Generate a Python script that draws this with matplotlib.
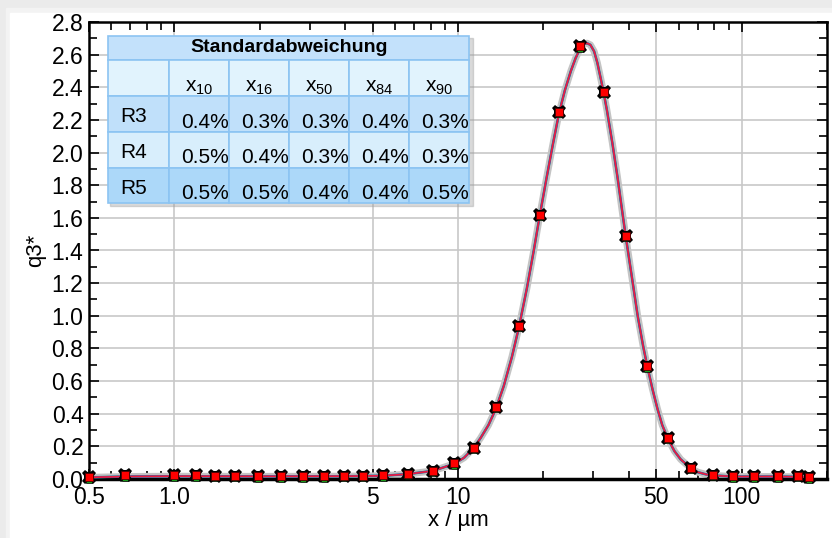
import matplotlib.pyplot as plt
from matplotlib.patches import Rectangle
from matplotlib.ticker import FixedLocator, NullFormatter, MultipleLocator

plt.rcParams['font.family'] = ['Liberation Sans', 'DejaVu Sans']
plt.rcParams['mathtext.fontset'] = 'custom'
plt.rcParams['mathtext.rm'] = 'Liberation Sans'

# measured points (x in um, q3*)
x_pts = [0.5, 0.67, 1.0, 1.19, 1.39, 1.63, 1.97, 2.38, 2.84, 3.36, 3.95, 4.61,
         5.42, 6.66, 8.17, 9.66, 11.35, 13.6, 16.4, 19.4, 22.7, 27.0, 32.6,
         39.0, 46.5, 55.0, 66.1, 79.2, 93.6, 111, 134, 158, 173]
q3_pts = [0.01, 0.022, 0.022, 0.022, 0.021, 0.018, 0.017, 0.017, 0.016, 0.016,
          0.018, 0.02, 0.022, 0.032, 0.05, 0.095, 0.19, 0.44, 0.94, 1.62,
          2.25, 2.65, 2.37, 1.49, 0.69, 0.25, 0.07, 0.025, 0.017, 0.017,
          0.017, 0.02, 0.01]

# fitted distribution curve
x_fit = [0.5, 0.67, 1.0, 2.0, 4.0, 5.42, 6.66, 8.17, 9.66, 10.5, 11.35, 12.0,
         12.8, 13.6, 14.5, 15.5, 16.4, 17.5, 18.5, 19.4, 20.5, 21.6, 22.7,
         23.8, 25.0, 26.0, 27.0, 27.8, 28.5, 29.3, 30.2, 31.0, 31.8, 32.6,
         33.5, 35.0, 36.5, 38.0, 39.0, 41.0, 43.0, 45.0, 46.5, 48.5, 50.5,
         52.5, 55.0, 58.0, 61.0, 66.0, 70.0, 75.0, 79.2, 93.6, 134, 173]
q3_fit = [0.01, 0.015, 0.017, 0.016, 0.017, 0.02, 0.03, 0.05, 0.092, 0.13,
          0.19, 0.25, 0.33, 0.43, 0.57, 0.75, 0.93, 1.17, 1.40, 1.61, 1.84,
          2.05, 2.24, 2.38, 2.50, 2.58, 2.64, 2.665, 2.67, 2.66, 2.62, 2.55,
          2.46, 2.37, 2.26, 2.06, 1.85, 1.63, 1.49, 1.24, 1.00, 0.81, 0.69,
          0.55, 0.43, 0.33, 0.245, 0.17, 0.12, 0.068, 0.042, 0.028, 0.022,
          0.015, 0.015, 0.012]

x_ticks = [0.5, 1.0, 5, 10, 50, 100]
x_ticklabels = ['0.5', '1.0', '5', '10', '50', '100']

table_title = 'Standardabweichung'
table_cols = ['10', '16', '50', '84', '90']
table_rows = ['R3', 'R4', 'R5']
table_vals = [['0.4%', '0.3%', '0.3%', '0.4%', '0.3%'],
              ['0.5%', '0.4%', '0.3%', '0.4%', '0.3%'],
              ['0.5%', '0.5%', '0.4%', '0.4%', '0.5%']]

W, H = 832, 538
fig = plt.figure(figsize=(W / 100, H / 100), dpi=100)
fig.patch.set_facecolor('#ebebeb')
# white card with a soft edge on top and left
fig.patches.append(Rectangle((6 / W, 0), 1, 1 - 8 / H, transform=fig.transFigure,
                             color='#f3f3f3', zorder=-2))
fig.patches.append(Rectangle((10 / W, 0), 1, 1 - 13 / H, transform=fig.transFigure,
                             color='white', zorder=-1))

ax = fig.add_axes([89 / W, 1 - 479 / H, (827 - 89) / W, (479 - 22) / H])
ax.set_xscale('log')
ax.set_xlim(0.5, 200)
ax.set_ylim(0, 2.8)

ax.xaxis.set_major_locator(FixedLocator(x_ticks))
ax.set_xticklabels(x_ticklabels)
ax.xaxis.set_minor_locator(FixedLocator(
    [0.6, 0.7, 0.8, 0.9, 2, 3, 4, 6, 7, 8, 9, 20, 30, 40, 60, 70, 80, 90, 200]))
ax.xaxis.set_minor_formatter(NullFormatter())
ax.yaxis.set_major_locator(MultipleLocator(0.2))
ax.yaxis.set_minor_locator(MultipleLocator(0.1))
ax.yaxis.set_major_formatter(plt.FormatStrFormatter('%.1f'))

ax.tick_params(which='both', direction='in', top=True, right=True,
               length=7, width=1.2, labelsize=16.5, colors='black')
ax.tick_params(which='minor', length=6)
ax.tick_params(axis='x', pad=5)
ax.tick_params(axis='y', pad=4)
for s in ax.spines.values():
    s.set_linewidth(1.8)
ax.spines['bottom'].set_linewidth(2.5)

ax.grid(True, which='major', color='#c8c8c8', linewidth=1.2)
ax.set_axisbelow(True)

ax.set_xlabel('x / µm', fontsize=16, labelpad=1)
ax.set_ylabel('q3*', fontsize=16, labelpad=4)

# curves
ax.plot(x_fit, q3_fit, color='#c4c4c4', lw=5, zorder=2)
ax.plot(x_fit, q3_fit, color='#2a8c8c', lw=1.8, zorder=3)
ax.plot(x_fit, q3_fit, color='#3a4fc0', lw=1.5, zorder=3)
ax.plot(x_fit, q3_fit, color='#ee1c3c', lw=1.2, zorder=4)

# markers
ax.plot(x_pts, q3_pts, ls='none', marker='s', ms=7.5, color='black', mew=0,
        zorder=5, clip_on=False)
ax.plot(x_pts, q3_pts, ls='none', marker='X', ms=10.5, color='black', mew=0,
        zorder=5, clip_on=False)
ax.plot(x_pts, [v - 0.014 for v in q3_pts], ls='none', marker='s', ms=5,
        color='#1a9a1a', mec='black', mew=0.5, zorder=6, clip_on=False)
ax.plot(x_pts, q3_pts, ls='none', marker='s', ms=5.5, color='#ff0000',
        mec='#500000', mew=0.6, zorder=7, clip_on=False)

# standard deviation table
col_edges = [108, 169, 229, 289, 349, 409, 469]
row_edges = [36, 60, 96, 132, 168, 203]
row_colors = ['#c3e1fb', '#e1f3fd', '#c0e0fa', '#d8eefc', '#acd8f9']
edge = '#8cc4f2'


def fx(px):
    return px / W


def fy(py):
    return 1 - py / H


# shadow
fig.patches.append(Rectangle((fx(110), fy(206)), (469 - 108 + 2) / W, (206 - 38) / H,
                             transform=fig.transFigure, color='#a0a0a0', alpha=0.4,
                             zorder=8))
for i in range(5):
    top, bot = row_edges[i], row_edges[i + 1]
    if i == 0:
        cells = [(col_edges[0], col_edges[-1])]
    else:
        cells = list(zip(col_edges[:-1], col_edges[1:]))
    for l, r in cells:
        fig.patches.append(Rectangle((fx(l), fy(bot)), (r - l) / W, (bot - top) / H,
                                     transform=fig.transFigure, facecolor=row_colors[i],
                                     edgecolor=edge, linewidth=1.2, zorder=9))

fig.text(fx(289), fy(48), table_title, fontsize=14, fontweight='bold',
         ha='center', va='center', zorder=10)
for j, c in enumerate(table_cols):
    cx = (col_edges[j + 1] + col_edges[j + 2]) / 2
    fig.text(fx(cx), fy(88), 'x$_{\\mathregular{' + c + '}}$', fontsize=15,
             ha='center', va='center', zorder=10)
for i, rname in enumerate(table_rows):
    top = row_edges[i + 2]
    fig.text(fx(120), fy(top + 20), rname, fontsize=15, ha='left',
             va='center', zorder=10)
    for j, v in enumerate(table_vals[i]):
        fig.text(fx(col_edges[j + 2] - 0.5), fy(top + 26), v, fontsize=15,
                 ha='right', va='center', zorder=10)

plt.savefig('out.png', dpi=100, facecolor=fig.get_facecolor())
